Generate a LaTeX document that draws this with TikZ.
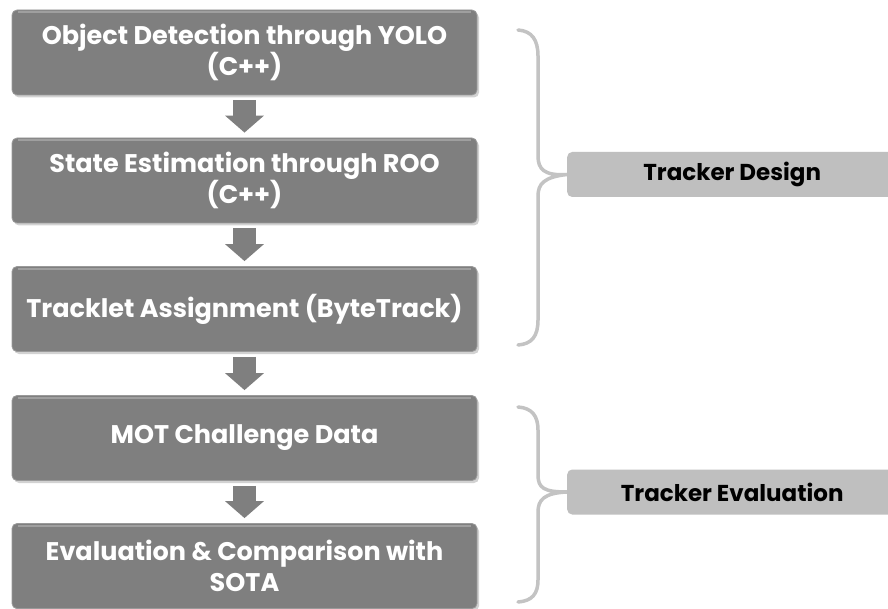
\documentclass[tikz,border=0pt]{standalone}
\usepackage{fontspec}
\setmainfont{Poppins}
\usetikzlibrary{arrows.meta,calc,shadows}
\definecolor{stepgray}{HTML}{7F7F7F}
\definecolor{stepedge}{HTML}{9A9A9A}
\definecolor{bracegray}{HTML}{C3C3C3}
\definecolor{tagfill}{HTML}{BFBFBF}
\tikzset{
  stepbox/.style={rectangle, rounded corners=5pt, fill=stepgray, draw=stepedge, line width=0.8pt,
    minimum width=465pt, minimum height=85pt, text=white, align=center,
    font=\fontsize{25.5}{30.5}\selectfont\bfseries,
    drop shadow={shadow xshift=2pt, shadow yshift=-2.5pt, opacity=0.35}},
  tagbox/.style={rectangle, rounded corners=5pt, fill=tagfill, minimum width=330pt,
    minimum height=45pt, text=black, font=\fontsize{23}{28}\selectfont\bfseries},
  flowarrow/.style={draw=stepgray, line width=23pt,
    -{Triangle[width=38pt,length=17pt]}, shorten <=5pt, shorten >=5pt},
  groupbrace/.style={draw=bracegray, line width=3.5pt, line cap=round},
}
\begin{document}
\begin{tikzpicture}[x=1pt,y=-1pt]
\useasboundingbox (0,0) rectangle (888,609);
\clip (0,0) rectangle (888,609);
\fill[white] (0,0) rectangle (888,609);

% process steps
\node[stepbox] (s1) at (244.5,52.5) {Object Detection through YOLO\\(C++)};
\node[stepbox] (s2) at (244.5,180.5) {State Estimation through ROO\\(C++)};
\node[stepbox] (s3) at (244.5,309) {Tracklet Assignment (ByteTrack)};
\node[stepbox] (s4) at (244.5,438) {MOT Challenge Data};
\node[stepbox] (s5) at (244.5,566) {Evaluation \& Comparison with\\SOTA};

% light top rims of the steps
\foreach \s in {s1,s2,s3,s4,s5}{
  \draw[white, opacity=0.25, line width=2pt]
    ($(\s.north west)+(6,2.5)$) -- ($(\s.north east)+(-6,2.5)$);
}

% arrows between steps
\draw[flowarrow] (s1.south) -- (s2.north);
\draw[flowarrow] (s2.south) -- (s3.north);
\draw[flowarrow] (s3.south) -- (s4.north);
\draw[flowarrow] (s4.south) -- (s5.north);

% group labels
\node[tagbox, anchor=west] (design) at (567,174.5) {Tracker Design};
\node[tagbox, anchor=west] (evaluation) at (567,492) {Tracker Evaluation};

% braces
\coordinate (b1top) at (518,30);
\coordinate (b1bot) at (518,345);
\coordinate (b2top) at (518,407);
\coordinate (b2bot) at (518,602);
\draw[groupbrace] (b1top) .. controls (532,31) and (538,40) .. (538,56)
  -- (538,156) .. controls (538,169) and (544,176) .. (design.west)
  .. controls (544,177) and (538,184) .. (538,196)
  -- (538,320) .. controls (538,336) and (532,344) .. (b1bot);
\draw[groupbrace] (b2top) .. controls (532,408) and (538,416) .. (538,430)
  -- (538,475) .. controls (538,488) and (544,492) .. (evaluation.west)
  .. controls (544,493) and (538,500) .. (538,512)
  -- (538,580) .. controls (538,594) and (532,601) .. (b2bot);
\end{tikzpicture}
\end{document}
